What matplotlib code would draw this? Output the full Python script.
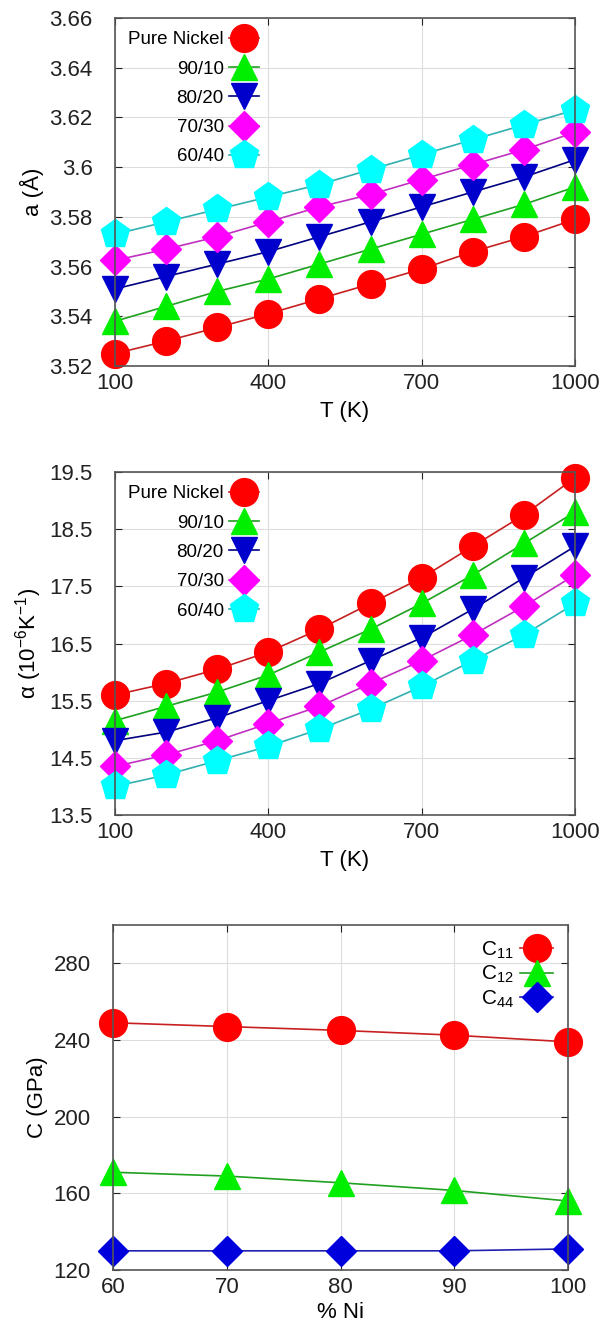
import numpy as np
import matplotlib.pyplot as plt
from matplotlib.ticker import FormatStrFormatter

plt.rcParams['font.family'] = ['Liberation Sans', 'DejaVu Sans']
plt.rcParams['mathtext.fontset'] = 'custom'
plt.rcParams['mathtext.rm'] = 'Liberation Sans'
plt.rcParams['mathtext.it'] = 'Liberation Sans'

# temperature data (K)
T = [100, 200, 300, 400, 500, 600, 700, 800, 900, 1000]
alloys = ['Pure Nickel', '90/10', '80/20', '70/30', '60/40']

# lattice parameter a (Angstrom)
a_ni = [3.525, 3.530, 3.5355, 3.541, 3.547, 3.553, 3.559, 3.566, 3.572, 3.579]
a_90 = [3.538, 3.544, 3.550, 3.555, 3.561, 3.567, 3.573, 3.579, 3.585, 3.592]
a_80 = [3.551, 3.556, 3.561, 3.566, 3.572, 3.578, 3.584, 3.590, 3.596, 3.603]
a_70 = [3.5625, 3.567, 3.572, 3.578, 3.584, 3.589, 3.595, 3.601, 3.607, 3.614]
a_60 = [3.573, 3.578, 3.583, 3.588, 3.593, 3.599, 3.605, 3.611, 3.617, 3.623]

# thermal expansion coefficient (1e-6 / K)
al_ni = [15.6, 15.8, 16.05, 16.35, 16.75, 17.2, 17.65, 18.2, 18.75, 19.4]
al_90 = [15.15, 15.4, 15.65, 15.95, 16.35, 16.75, 17.2, 17.7, 18.25, 18.8]
al_80 = [14.8, 14.95, 15.2, 15.5, 15.8, 16.2, 16.6, 17.1, 17.65, 18.2]
al_70 = [14.35, 14.55, 14.8, 15.1, 15.4, 15.8, 16.2, 16.65, 17.15, 17.7]
al_60 = [14.0, 14.2, 14.45, 14.7, 15.0, 15.35, 15.75, 16.2, 16.65, 17.2]

# elastic constants vs % Ni
ni_pct = [60, 70, 80, 90, 100]
c11 = [249, 247, 245, 242.5, 239]
c12 = [171, 169, 165.5, 161.5, 156]
c44 = [130, 130, 130, 130, 131]

# gnuplot-ish styles
styles = [
    dict(marker='o', mfc='#ff0000', color='#c82020', ms=20),
    dict(marker='^', mfc='#00ee00', color='#20a020', ms=19),
    dict(marker='v', mfc='#0000cc', color='#000080', ms=19),
    dict(marker='D', mfc='#ff00ff', color='#c030c0', ms=15),
    dict(marker='p', mfc='#00ffff', color='#30b0b0', ms=21),
]

FS = 16


def style_axes(ax):
    ax.tick_params(direction='in', top=True, right=True, length=5,
                   labelsize=FS, colors='#222222')
    ax.tick_params(axis='y', pad=16)
    ax.tick_params(axis='x', pad=5)
    for s in ax.spines.values():
        s.set_color('#555555')
        s.set_linewidth(1.2)
    ax.grid(True, color='#dddddd', linewidth=0.8)
    ax.set_axisbelow(True)


fig = plt.figure(figsize=(6.06, 13.29), dpi=100)

# panel 1: lattice parameter
ax1 = fig.add_axes([0.1898, 0.7246, 0.759, 0.2619])
for y, lab, st in zip([a_ni, a_90, a_80, a_70, a_60], alloys, styles):
    ax1.plot(T, y, marker=st['marker'], color=st['color'], mfc=st['mfc'],
             mec=st['mfc'], ms=st['ms'], lw=1.2, label=lab, clip_on=False)
ax1.set_xlim(100, 1000)
ax1.set_ylim(3.52, 3.66)
ax1.set_xticks([100, 400, 700, 1000])
ax1.set_yticks(np.arange(3.52, 3.661, 0.02))
ax1.yaxis.set_major_formatter(FormatStrFormatter('%g'))
ax1.set_xlabel('T (K)', fontsize=FS, labelpad=5)
ax1.set_ylabel('a (Å)', fontsize=FS, labelpad=4)
style_axes(ax1)
ax1.legend(loc='upper left', frameon=False, markerfirst=False, fontsize=13.5,
           handlelength=1.6, labelspacing=0.65, borderaxespad=0.3,
           handletextpad=0.3, bbox_to_anchor=(0.0, 1.0))

# panel 2: thermal expansion coefficient
ax2 = fig.add_axes([0.1898, 0.3868, 0.759, 0.258])
for y, lab, st in zip([al_ni, al_90, al_80, al_70, al_60], alloys, styles):
    ax2.plot(T, y, marker=st['marker'], color=st['color'], mfc=st['mfc'],
             mec=st['mfc'], ms=st['ms'], lw=1.2, label=lab, clip_on=False)
ax2.set_xlim(100, 1000)
ax2.set_ylim(13.5, 19.5)
ax2.set_xticks([100, 400, 700, 1000])
ax2.set_yticks(np.arange(13.5, 19.6, 1.0))
ax2.yaxis.set_major_formatter(FormatStrFormatter('%g'))
ax2.set_xlabel('T (K)', fontsize=FS, labelpad=5)
ax2.set_ylabel(r'α (10$^{-6}$K$^{-1}$)', fontsize=FS, labelpad=4)
style_axes(ax2)
ax2.legend(loc='upper left', frameon=False, markerfirst=False, fontsize=13.5,
           handlelength=1.6, labelspacing=0.65, borderaxespad=0.3,
           handletextpad=0.3, bbox_to_anchor=(0.0, 1.0))

# panel 3: elastic constants
ax3 = fig.add_axes([0.1865, 0.0444, 0.7508, 0.2596])
c_styles = [
    dict(marker='o', mfc='#ff0000', color='#c82020', ms=20),
    dict(marker='^', mfc='#00ee00', color='#20a020', ms=19),
    dict(marker='D', mfc='#0000dd', color='#2020b0', ms=15),
]
for y, lab, st in zip([c11, c12, c44], [r'C$_{11}$', r'C$_{12}$', r'C$_{44}$'], c_styles):
    ax3.plot(ni_pct, y, marker=st['marker'], color=st['color'], mfc=st['mfc'],
             mec=st['mfc'], ms=st['ms'], lw=1.2, label=lab, clip_on=False)
ax3.set_xlim(60, 100)
ax3.set_ylim(120, 300)
ax3.set_xticks(ni_pct)
ax3.set_yticks([120, 160, 200, 240, 280])
ax3.set_xlabel('% Ni', fontsize=FS, labelpad=3)
ax3.set_ylabel('C (GPa)', fontsize=FS, labelpad=4)
style_axes(ax3)
ax3.legend(loc='upper right', frameon=False, markerfirst=False, fontsize=15,
           handlelength=1.6, labelspacing=0.15, borderaxespad=0.3,
           handletextpad=0.3)

fig.savefig('out.png', dpi=100)
